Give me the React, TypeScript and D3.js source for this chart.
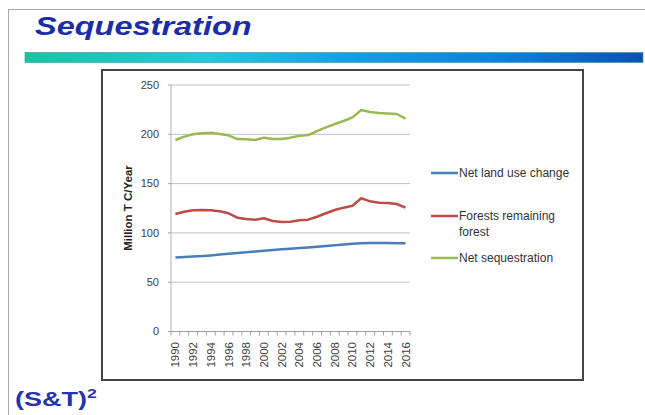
import React from "react";
import * as d3 from "d3";

const years = d3.range(1990, 2017);
const tickYears = [1990,1992,1994,1996,1998,2000,2002,2004,2006,2008,2010,2012,2014,2016];
const yTicks = [0, 50, 100, 150, 200, 250];

const netLandUse = [75,75.5,76,76.5,77.2,78,78.8,79.5,80.3,81.2,82,82.6,83.3,84,84.6,85.3,86,86.7,87.4,88.2,88.9,89.6,89.8,89.8,89.7,89.6,89.5];
const forestsRemaining = [119.2,121.5,122.9,123.2,122.9,122,119.9,115.4,114.1,113.4,114.8,112.1,111.1,111.4,112.8,113.4,116.4,119.9,123.2,125.6,127.6,135.1,132,130.6,130.3,129.3,125.6];
const netSequestration = [194.2,197.6,200,201,201.6,200.3,199,195.2,195,194.2,196.6,195.3,195.3,196.6,198.6,199.2,203.3,207,210.4,213.5,217.2,224.6,222.6,221.6,221.2,220.6,215.8];

const seriesNames = ["Net land use change", "Forests remaining forest", "Net sequestration"];
const seriesColors = ["#4a7ebb", "#be4b48", "#98b954"];

export default function App() {
  const W = 645, H = 415;
  const x0 = 171, x1 = 410;
  const x = d3.scaleBand<number>().domain(years).range([x0, x1]);
  const y = d3.scaleLinear().domain([0, 250]).range([331.5, 85]);
  const line = d3.line<number>().x((_, i) => (x(years[i]) as number) + x.bandwidth() / 2).y(d => y(d));
  const series = [netLandUse, forestsRemaining, netSequestration];
  const font = "'Liberation Sans', Arial, sans-serif";
  const legendY = [173, 216, 258];
  return (
    <svg width={W} height={H} style={{ position: "absolute", left: 0, top: 0, background: "#fff" }}>
      <defs>
        <linearGradient id="bar" x1="0" x2="1" y1="0" y2="0">
          <stop offset="0" stopColor="#19c49e" />
          <stop offset="0.3" stopColor="#22c8dc" />
          <stop offset="0.5" stopColor="#18a2e2" />
          <stop offset="0.8" stopColor="#0a7ed6" />
          <stop offset="1" stopColor="#0a52ae" />
        </linearGradient>
      </defs>
      <rect x={0} y={0} width={W} height={H} fill="#fff" />
      <line x1={8.5} y1={9} x2={8.5} y2={H} stroke="#a8a8a8" strokeWidth={1} />
      <line x1={8} y1={9.5} x2={W} y2={9.5} stroke="#a8a8a8" strokeWidth={1} />
      <text transform="translate(35,35) scale(1.25,1)" fontFamily={font} fontWeight="bold" fontStyle="italic" fontSize={26} fill="#1c2ca6">Sequestration</text>
      <rect x={25} y={52.5} width={618} height={10} fill="url(#bar)" stroke="#4a8aa0" strokeWidth={0.6} />
      <text transform="translate(15,406) scale(1.35,1)" fontFamily={font} fontWeight="bold" fontSize={20} fill="#2434b0">
        (S&amp;T)<tspan dy={-8} fontSize={13}>2</tspan>
      </text>
      {/* chart box */}
      <rect x={102} y={70} width={481} height={310} fill="#fff" stroke="#444" strokeWidth={2} />
      {/* gridlines */}
      {yTicks.map(t => (
        <g key={t}>
          {t > 0 && <line x1={x0} x2={x1} y1={y(t)} y2={y(t)} stroke="#c0c0c0" strokeWidth={1} />}
          <line x1={x0 - 3} x2={x0} y1={y(t)} y2={y(t)} stroke="#a0a0a0" strokeWidth={1} />
          <text x={159} y={y(t)} dy="0.35em" textAnchor="end" fontFamily={font} fontSize={11} fill="#404040">{t}</text>
        </g>
      ))}
      <line x1={x0} x2={x0} y1={y(250)} y2={y(0)} stroke="#b0b0b0" strokeWidth={1} />
      <line x1={x0} x2={x1} y1={y(0)} y2={y(0)} stroke="#a0a0a0" strokeWidth={1} />
      {years.concat([2017]).map((yr, i) => {
        const px = x0 + i * x.step();
        return <line key={yr} x1={px} x2={px} y1={y(0)} y2={y(0) + 4} stroke="#a0a0a0" strokeWidth={1} />;
      })}
      {tickYears.map(yr => {
        const cx = (x(yr) as number) + x.bandwidth() / 2;
        return (
          <text key={yr} transform={`translate(${cx},342) rotate(-90)`} dy="0.35em" textAnchor="end" fontFamily={font} fontSize={11.5} fill="#404040">{yr}</text>
        );
      })}
      <text transform={`translate(128,208) rotate(-90)`} dy="0.35em" textAnchor="middle" fontFamily={font} fontWeight="bold" fontSize={11.5} fill="#222">Million T C/Year</text>
      {series.map((s, i) => (
        <path key={i} d={line(s) || ""} fill="none" stroke={seriesColors[i]} strokeWidth={2.5} strokeLinejoin="round" />
      ))}
      {/* legend */}
      {seriesNames.map((n, i) => (
        <g key={n}>
          <line x1={431} x2={458} y1={legendY[i]} y2={legendY[i]} stroke={seriesColors[i]} strokeWidth={2.5} />
          {i === 1 ? (
            <text x={459} y={legendY[i]} dy="0.35em" fontFamily={font} fontSize={12} fill="#333">
              <tspan x={459}>Forests remaining</tspan>
              <tspan x={459} dy={16}>forest</tspan>
            </text>
          ) : (
            <text x={459} y={legendY[i]} dy="0.35em" fontFamily={font} fontSize={12} fill="#333">{n}</text>
          )}
        </g>
      ))}
    </svg>
  );
}
